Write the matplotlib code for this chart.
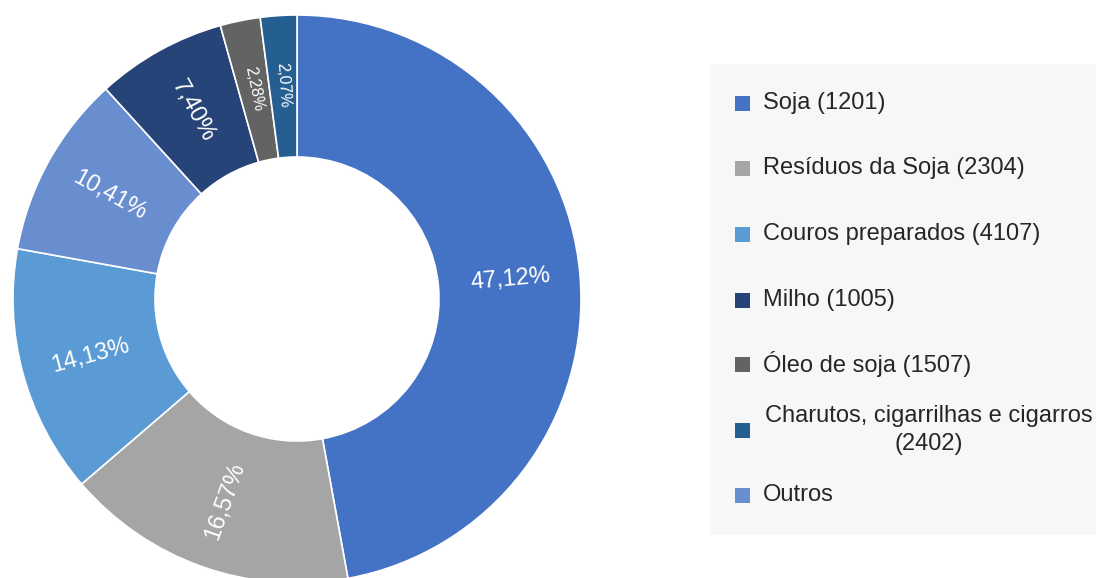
import matplotlib
matplotlib.use("Agg")
import matplotlib.pyplot as plt
from matplotlib.patches import Rectangle
import numpy as np

plt.rcParams['font.family'] = ['Liberation Sans', 'DejaVu Sans']

# Data (slice order, clockwise from top)
slice_names = ["Soja", "Resíduos da Soja", "Couros preparados", "Outros", "Milho",
               "Óleo de soja", "Charutos, cigarrilhas e cigarros"]
slice_pcts = [47.12, 16.57, 14.13, 10.41, 7.40, 2.28, 2.07]
slice_labels = ["47,12%", "16,57%", "14,13%", "10,41%", "7,40%", "2,28%", "2,07%"]
slice_colors = ["#4472C4", "#A5A5A5", "#5B9BD5", "#698ED0", "#264478", "#636363", "#255E91"]

# Legend (own order)
legend_labels = ["Soja (1201)", "Resíduos da Soja (2304)", "Couros preparados (4107)",
                 "Milho (1005)", "Óleo de soja (1507)",
                 "Charutos, cigarrilhas e cigarros\n(2402)", "Outros"]
legend_colors = ["#4472C4", "#A5A5A5", "#5B9BD5", "#264478", "#636363", "#255E91", "#698ED0"]

W, H = 1096, 578
fig = plt.figure(figsize=(W / 100, H / 100), dpi=100)

cx, cy, R = 297, 299, 284
ax = fig.add_axes([(cx - R) / W, (H - cy - R) / H, 2 * R / W, 2 * R / H])

wedges, _ = ax.pie(slice_pcts, colors=slice_colors, startangle=90, counterclock=False,
                   radius=1.0, wedgeprops=dict(width=0.5, edgecolor='white', linewidth=1.2))
ax.set_aspect('auto')
ax.set_xlim(-1, 1)
ax.set_ylim(-1, 1)
ax.axis('off')

for w, lab, p in zip(wedges, slice_labels, slice_pcts):
    mid = (w.theta1 + w.theta2) / 2.0
    rad = np.deg2rad(mid)
    r = 0.755
    x, y = r * np.cos(rad), r * np.sin(rad)
    rot = mid
    while rot > 90:
        rot -= 180
    while rot <= -90:
        rot += 180
    fs = 17 if p > 5 else 11.5
    ax.text(x, y, lab, color='white', fontsize=fs, rotation=rot, rotation_mode='anchor',
            ha='center', va='center')

# Legend panel
bx0, by0, bx1, by1 = 710, 64, 1100, 535
fig.patches.append(Rectangle((bx0 / W, 1 - by1 / H), (bx1 - bx0) / W, (by1 - by0) / H,
                             transform=fig.transFigure, facecolor='#F7F7F7',
                             edgecolor='none', zorder=0))
ycenters = [103, 168, 234, 300, 364, 430, 495]
msize = 15
for lab, col, yc in zip(legend_labels, legend_colors, ycenters):
    fig.patches.append(Rectangle((735 / W, 1 - (yc + msize / 2) / H), msize / W, msize / H,
                                 transform=fig.transFigure, facecolor=col,
                                 edgecolor='none', zorder=2))
    if "\n" in lab:
        fig.text(929 / W, 1 - yc / H, lab, fontsize=17, color='#262626',
                 ha='center', va='center', multialignment='center', linespacing=1.35)
    else:
        fig.text(763 / W, 1 - yc / H, lab, fontsize=17, color='#262626',
                 ha='left', va='center')

fig.savefig("out.png", dpi=100)
